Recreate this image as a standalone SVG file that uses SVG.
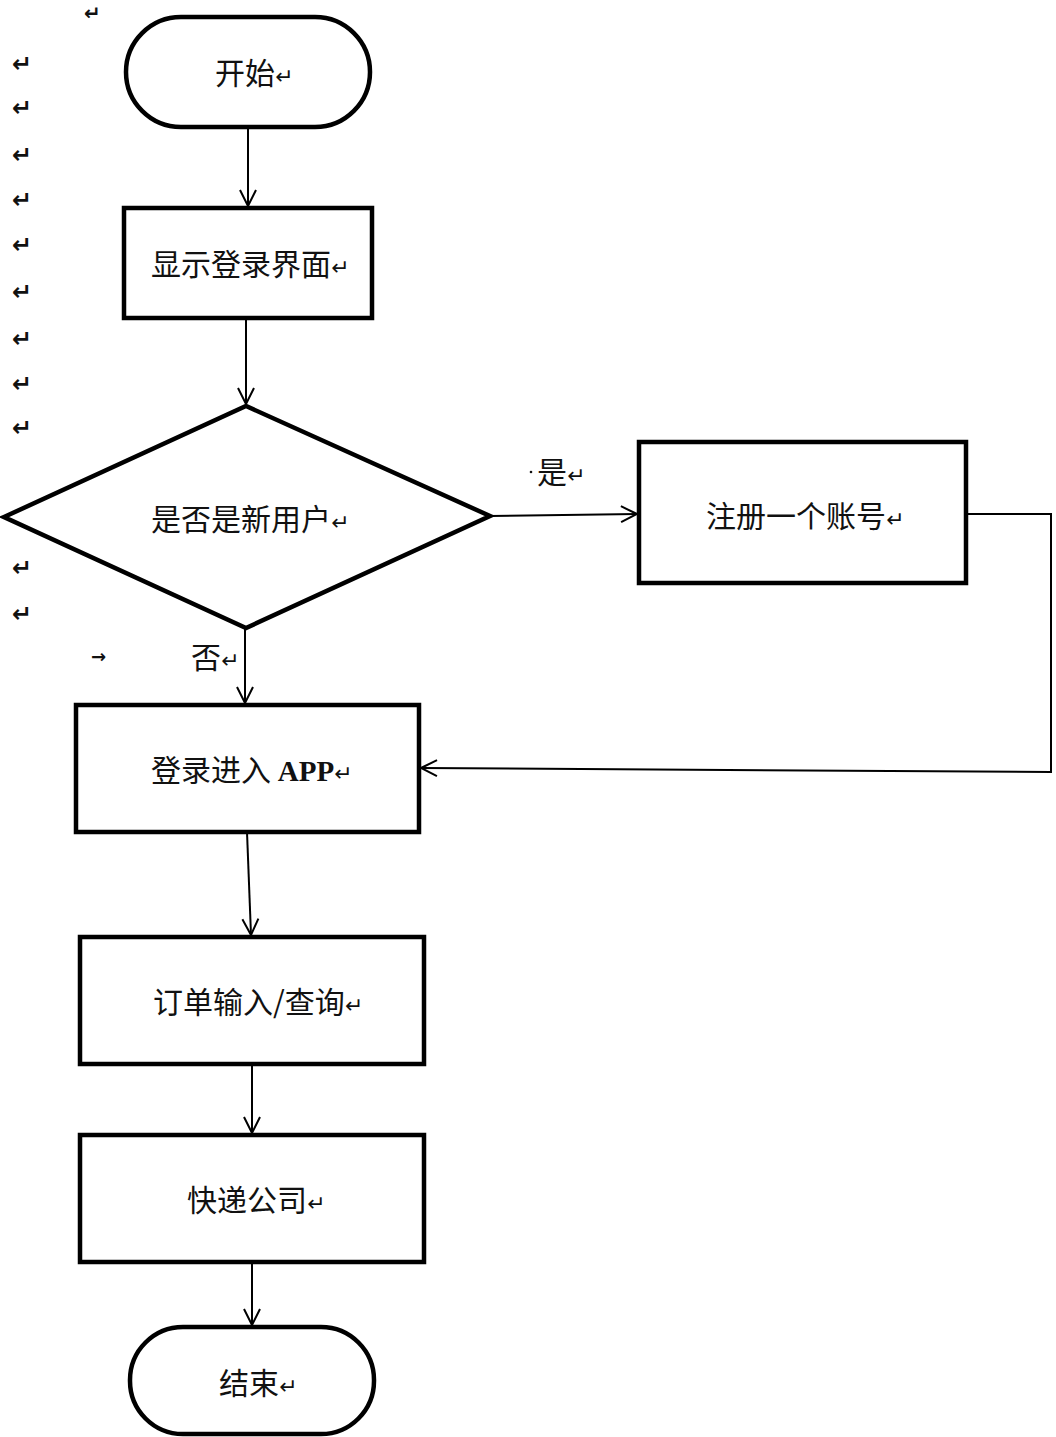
<svg xmlns="http://www.w3.org/2000/svg" width="1056" height="1437" viewBox="0 0 1056 1437">
<style>
.s{fill:#fff;stroke:#000;stroke-width:4.5}
.c{fill:none;stroke:#000;stroke-width:2}
.t{font-family:"Noto Sans CJK SC","Noto Sans",sans-serif;font-size:30px;fill:#111}
.r{font-family:"DejaVu Sans",sans-serif;font-size:24px;font-weight:bold;fill:#111}
.rt{font-size:22px;font-family:"DejaVu Sans",sans-serif}
.b{font-family:"Liberation Serif",serif;font-weight:bold;font-size:29px}
</style>
<defs>
<marker id="a" viewBox="0 0 20 20" refX="18" refY="10" markerWidth="20" markerHeight="20" markerUnits="userSpaceOnUse" orient="auto">
<path d="M2,2 L18,10 L2,18" fill="none" stroke="#000" stroke-width="2"/>
</marker>
</defs>
<rect width="1056" height="1437" fill="#fff"/>
<g id="marks">
<text class="r" x="84" y="20" style="font-size:20px">↵</text>
<text class="r" x="12" y="72">↵</text>
<text class="r" x="12" y="116">↵</text>
<text class="r" x="12" y="163">↵</text>
<text class="r" x="12" y="208">↵</text>
<text class="r" x="12" y="253">↵</text>
<text class="r" x="12" y="300">↵</text>
<text class="r" x="12" y="347">↵</text>
<text class="r" x="12" y="392">↵</text>
<text class="r" x="12" y="436">↵</text>
<text class="r" x="12" y="576">↵</text>
<text class="r" x="12" y="622">↵</text>
<text class="r" x="91" y="663" style="font-size:18px">→</text>
</g>
<g id="connectors">
<line class="c" x1="248" y1="127" x2="248" y2="206" marker-end="url(#a)"/>
<line class="c" x1="246" y1="318" x2="246" y2="404" marker-end="url(#a)"/>
<line class="c" x1="490" y1="516" x2="637" y2="514" marker-end="url(#a)"/>
<line class="c" x1="245" y1="628" x2="245" y2="703" marker-end="url(#a)"/>
<polyline class="c" points="966,514 1051,514 1051,772 421,768" marker-end="url(#a)"/>
<line class="c" x1="247" y1="832" x2="251" y2="935" marker-end="url(#a)"/>
<line class="c" x1="252" y1="1064" x2="252" y2="1133" marker-end="url(#a)"/>
<line class="c" x1="252" y1="1262" x2="252" y2="1325" marker-end="url(#a)"/>
<circle cx="531" cy="472" r="1.3" fill="#111"/>
<text class="t" x="537" y="483">是<tspan class="rt">↵</tspan></text>
<text class="t" x="191" y="668">否<tspan class="rt">↵</tspan></text>
</g>
<g id="start">
<rect class="s" x="126" y="17" width="244" height="110" rx="55"/>
<text class="t" x="215" y="84">开始<tspan class="rt">↵</tspan></text>
</g>
<g id="login-ui">
<rect class="s" x="124" y="208" width="248" height="110"/>
<text class="t" x="151" y="275">显示登录界面<tspan class="rt">↵</tspan></text>
</g>
<g id="decision">
<polygon class="s" points="4,517 246,406 490,516 246,628"/>
<text class="t" x="151" y="530">是否是新用户<tspan class="rt">↵</tspan></text>
</g>
<g id="register">
<rect class="s" x="639" y="442" width="327" height="141"/>
<text class="t" x="706" y="527">注册一个账号<tspan class="rt">↵</tspan></text>
</g>
<g id="enter-app">
<rect class="s" x="76" y="705" width="343" height="127"/>
<text class="t" x="151" y="781">登录进入 <tspan class="b">APP</tspan><tspan class="rt">↵</tspan></text>
</g>
<g id="order">
<rect class="s" x="80" y="937" width="344" height="127"/>
<text class="t" x="153" y="1013">订单输入/查询<tspan class="rt">↵</tspan></text>
</g>
<g id="courier">
<rect class="s" x="80" y="1135" width="344" height="127"/>
<text class="t" x="187" y="1211">快递公司<tspan class="rt">↵</tspan></text>
</g>
<g id="end">
<rect class="s" x="130" y="1327" width="244" height="107" rx="53"/>
<text class="t" x="219" y="1394">结束<tspan class="rt">↵</tspan></text>
</g>
</svg>
